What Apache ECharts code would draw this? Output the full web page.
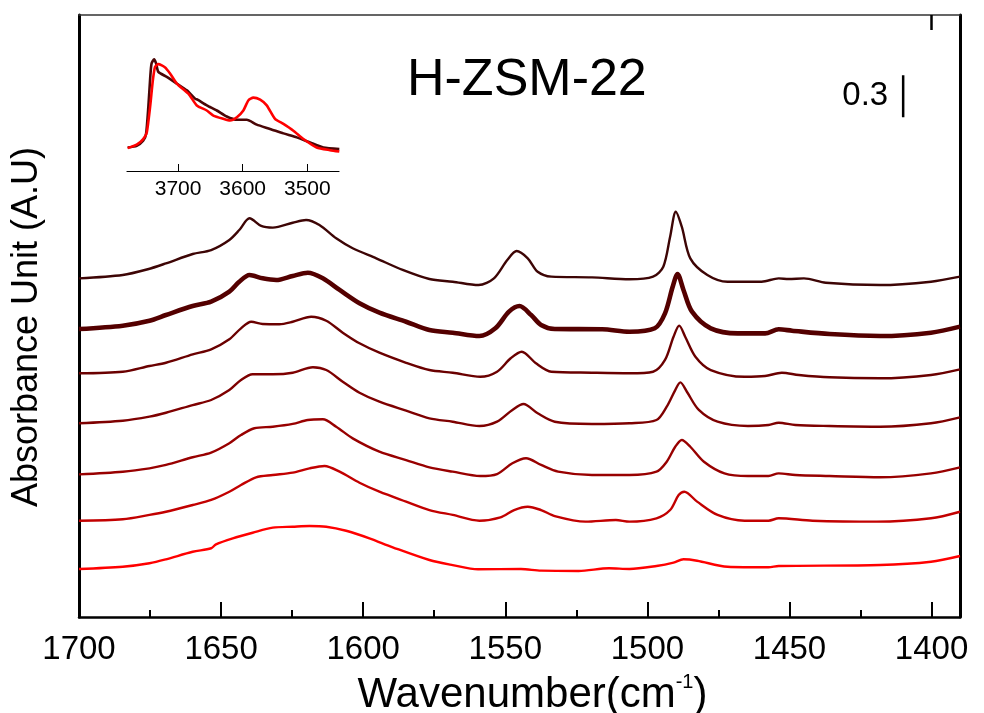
<!DOCTYPE html>
<html>
<head>
<meta charset="utf-8">
<title>H-ZSM-22 IR spectra</title>
<script src="https://cdn.jsdelivr.net/npm/echarts@6/dist/echarts.min.js"></script>
<style>
  html, body { margin: 0; padding: 0; background: #fff; }
  #chart { width: 984px; height: 713px; }
</style>
</head>
<body>
<div id="chart"></div>
<script>
// Wavenumber ticks of the main spectrum axis (cm^-1)
const wnMajorTicks = [1700, 1650, 1600, 1550, 1500, 1450, 1400];
const wnMinorTicks = [1675, 1625, 1575, 1525, 1475, 1425];
const insetTicks = [3700, 3600, 3500];

// Stacked spectra, top to bottom: [wavenumber, absorbance]
const spec1 = [[1700,2.419],[1684.6,2.443],[1675.8,2.484],[1669.4,2.526],[1660,2.593],[1653.5,2.621],[1647.1,2.693],[1643.6,2.764],[1640,2.848],[1635.9,2.793],[1631.8,2.781],[1624.8,2.816],[1620.1,2.836],[1615.4,2.8],[1609.5,2.705],[1603.7,2.634],[1595.4,2.562],[1586.1,2.479],[1576.7,2.414],[1568.5,2.395],[1559.4,2.371],[1554,2.419],[1549.3,2.55],[1546,2.614],[1542.1,2.562],[1538.6,2.466],[1533.8,2.431],[1519.5,2.426],[1506.3,2.412],[1498,2.431],[1494.4,2.502],[1492,2.716],[1490,2.895],[1487.9,2.788],[1484.9,2.562],[1478.9,2.443],[1471.8,2.395],[1459.8,2.395],[1453.8,2.419],[1450.3,2.414],[1444.9,2.419],[1437.2,2.388],[1418.1,2.371],[1400.2,2.395],[1390,2.431]];
const spec2 = [[1700,2.057],[1684.6,2.081],[1675.2,2.116],[1669.4,2.157],[1660,2.221],[1653.5,2.252],[1647.1,2.324],[1643.6,2.395],[1640,2.443],[1635.4,2.419],[1630.6,2.407],[1624.8,2.436],[1619.5,2.459],[1614.2,2.419],[1608.3,2.336],[1601.3,2.241],[1594.3,2.174],[1584.9,2.109],[1576.7,2.05],[1568.5,2.031],[1559.1,2.007],[1553.5,2.062],[1548.7,2.181],[1545,2.221],[1540.9,2.157],[1537.4,2.086],[1532.6,2.057],[1515.9,2.055],[1506.3,2.038],[1497.4,2.062],[1493.8,2.169],[1491.1,2.359],[1489.4,2.45],[1487.3,2.336],[1484.3,2.181],[1477.7,2.062],[1468.2,2.026],[1458.6,2.026],[1453.8,2.055],[1449.1,2.045],[1435.9,2.021],[1418.1,2.007],[1400.2,2.031],[1390,2.074]];
const spec3 = [[1700,1.741],[1684.6,1.752],[1675.2,1.793],[1669.4,1.816],[1660,1.876],[1653.5,1.912],[1647.1,1.984],[1643,2.062],[1639.4,2.109],[1635.4,2.093],[1629.5,2.091],[1624.8,2.109],[1618.3,2.145],[1613,2.116],[1607.2,2.031],[1601.3,1.955],[1594.3,1.888],[1584.9,1.816],[1576.7,1.764],[1568.5,1.745],[1558.8,1.716],[1552.9,1.752],[1548.1,1.848],[1544.2,1.895],[1539.2,1.812],[1533.8,1.752],[1519.5,1.745],[1506.3,1.741],[1498,1.752],[1493.8,1.836],[1490.8,2.002],[1488.8,2.081],[1486.7,2.002],[1483.1,1.859],[1477.7,1.764],[1465.8,1.716],[1458.6,1.721],[1452.7,1.745],[1446.7,1.729],[1435.9,1.712],[1418.1,1.705],[1400.2,1.729],[1390,1.769]];
const spec4 = [[1700,1.384],[1684.6,1.402],[1675.2,1.431],[1669.4,1.459],[1660,1.514],[1653.5,1.55],[1647.1,1.621],[1643,1.693],[1638.9,1.734],[1631.8,1.734],[1624.8,1.745],[1617.7,1.784],[1613,1.764],[1607.2,1.681],[1601.3,1.602],[1594.3,1.538],[1584.9,1.474],[1576.7,1.419],[1568.5,1.395],[1559.1,1.364],[1552.9,1.395],[1547.5,1.479],[1543.6,1.521],[1538.6,1.455],[1532.6,1.395],[1519.5,1.379],[1506.3,1.384],[1496.8,1.407],[1493.2,1.502],[1490.2,1.621],[1488.4,1.676],[1486.1,1.609],[1481.9,1.479],[1475.3,1.395],[1464.6,1.364],[1457.4,1.371],[1453.8,1.388],[1447.9,1.371],[1435.9,1.364],[1418.1,1.359],[1400.2,1.384],[1390,1.426]];
const spec5 = [[1700,1.019],[1684.6,1.038],[1675.2,1.062],[1669.4,1.086],[1660,1.141],[1653.5,1.174],[1647.1,1.241],[1643,1.3],[1638.3,1.348],[1631.8,1.359],[1624.8,1.379],[1619.5,1.407],[1614.2,1.412],[1609.5,1.359],[1603.7,1.276],[1594.3,1.181],[1584.9,1.121],[1576.7,1.069],[1568.5,1.038],[1558.8,1.007],[1552.9,1.021],[1547.5,1.098],[1542.7,1.134],[1537.4,1.086],[1531.4,1.038],[1519.5,1.014],[1506.3,1.014],[1496.8,1.038],[1493.2,1.109],[1490.2,1.216],[1487.9,1.264],[1484.9,1.216],[1480.1,1.109],[1472.9,1.026],[1464.6,1.007],[1457.4,1.007],[1453.8,1.026],[1447.9,1.014],[1435.9,1.007],[1418.1,0.998],[1400.2,1.026],[1390,1.069]];
const spec6 = [[1700,0.688],[1684.6,0.698],[1675.2,0.729],[1669.4,0.752],[1660,0.8],[1653.5,0.836],[1647.1,0.895],[1643,0.943],[1637.7,0.998],[1631.8,1.014],[1624.8,1.031],[1618.9,1.062],[1613.6,1.079],[1608.3,1.038],[1601.3,0.959],[1594.3,0.895],[1584.9,0.824],[1576.7,0.764],[1568.5,0.729],[1559.1,0.688],[1551.7,0.712],[1546.9,0.764],[1542.1,0.788],[1537.4,0.764],[1532.6,0.721],[1521.8,0.681],[1511.1,0.693],[1506.3,0.681],[1496.8,0.705],[1492,0.764],[1489,0.871],[1487,0.895],[1482.5,0.824],[1475.3,0.729],[1465.8,0.688],[1457.4,0.688],[1453.8,0.705],[1441.9,0.688],[1419.3,0.681],[1400.2,0.705],[1390,0.752]];
const spec7 = [[1700,0.343],[1684.6,0.359],[1675.2,0.384],[1669.4,0.412],[1660,0.466],[1653.5,0.491],[1651.8,0.519],[1645.9,0.562],[1638.9,0.602],[1631.8,0.638],[1624.8,0.645],[1618.9,0.65],[1613,0.645],[1606,0.616],[1597.8,0.562],[1589.6,0.498],[1576.7,0.407],[1568.5,0.371],[1559.6,0.341],[1544.5,0.343],[1537.4,0.331],[1524.2,0.329],[1513.5,0.348],[1506.3,0.343],[1496.8,0.364],[1490.8,0.388],[1487.3,0.412],[1482.5,0.402],[1471.8,0.359],[1457.4,0.355],[1453.8,0.364],[1418.1,0.371],[1400.2,0.395],[1390,0.436]];

// OH-stretch region shown in the inset: [wavenumber, relative absorbance]
const insetDark = [[3778,0.194],[3764,0.208],[3754,0.25],[3749.5,0.306],[3746,0.528],[3743,0.778],[3741,0.889],[3737,0.923],[3734,0.889],[3730.5,0.819],[3717.5,0.778],[3702,0.723],[3686.5,0.667],[3673.7,0.598],[3670,0.589],[3655.6,0.542],[3640,0.5],[3624.7,0.45],[3609,0.423],[3593.7,0.423],[3578.3,0.383],[3557.7,0.348],[3537,0.311],[3516.4,0.278],[3495.8,0.236],[3475.2,0.194],[3450.5,0.181]];
const insetRed = [[3778,0.189],[3764,0.217],[3754,0.264],[3748.4,0.319],[3743.3,0.528],[3739,0.75],[3735.6,0.861],[3730.5,0.883],[3720,0.856],[3712.4,0.806],[3702,0.723],[3684,0.639],[3671,0.542],[3655.6,0.5],[3645.4,0.458],[3630,0.431],[3619.6,0.417],[3609,0.444],[3599,0.5],[3591.3,0.583],[3583.5,0.606],[3573,0.589],[3562.8,0.542],[3550,0.431],[3537,0.389],[3521.6,0.333],[3506,0.264],[3485.5,0.194],[3465,0.172],[3450.5,0.161]];

// Absorbance scale bar
const scaleBarValue = 0.3;
const scaleBarAt = [1410, 3.57];

const spectra = [spec1, spec2, spec3, spec4, spec5, spec6, spec7];
const spectraColors = ['#3d0505', '#540000', '#6a0000', '#7e0000', '#980000', '#c20000', '#ff0000'];
const spectraWidths = [2.4, 4.6, 2.4, 2.4, 2.4, 2.4, 2.4];

const FONT = "'Liberation Sans', Arial, Helvetica, sans-serif";
const NARROW = "'Liberation Sans Narrow', 'Arial Narrow', 'Liberation Sans', sans-serif";
const plain = v => String(v);

const chart = echarts.init(document.getElementById('chart'), null, { renderer: 'canvas' });

const mainSeries = spectra.map((d, i) => ({
  type: 'line',
  xAxisIndex: 0,
  yAxisIndex: 0,
  data: d,
  showSymbol: false,
  smooth: 0.3,
  lineStyle: { color: spectraColors[i], width: spectraWidths[i] },
  z: 10 - i,
  silent: true
}));

const option = {
  animation: false,
  backgroundColor: '#ffffff',
  textStyle: { fontFamily: FONT },
  grid: [
    { left: 79, right: 24, top: 15, bottom: 96, containLabel: false, outerBoundsMode: 'none' },
    { left: 127, right: 645, top: 50, bottom: 542, containLabel: false, outerBoundsMode: 'none' }
  ],
  xAxis: [
    {
      type: 'value', gridIndex: 0, position: 'bottom',
      min: 1390, max: 1700, inverse: true,
      axisLine: { show: true, onZero: false, lineStyle: { color: '#000', width: 2.5 } },
      axisTick: { show: true, inside: true, length: 15, customValues: wnMajorTicks, lineStyle: { color: '#000', width: 2 } },
      axisLabel: { show: true, customValues: wnMajorTicks, formatter: plain, margin: 16, fontSize: 33, color: '#000', fontFamily: NARROW },
      splitLine: { show: false },
      name: '{a|Wavenumber(cm}{s|-1}{a|)}',
      nameLocation: 'middle',
      nameGap: 55,
      nameTextStyle: {
        padding: [0, 0, 0, 26],
        rich: {
          a: { fontSize: 42, color: '#000', fontFamily: FONT, lineHeight: 46 },
          s: { fontSize: 20, color: '#000', fontFamily: FONT, verticalAlign: 'top', lineHeight: 46, padding: [0, 0, 17, 0] }
        }
      }
    },
    {
      type: 'value', gridIndex: 0, position: 'bottom',
      min: 1390, max: 1700, inverse: true,
      axisLine: { show: false },
      axisTick: { show: true, inside: true, length: 7, customValues: wnMinorTicks, lineStyle: { color: '#000', width: 2 } },
      axisLabel: { show: false },
      splitLine: { show: false }
    },
    {
      type: 'value', gridIndex: 0, position: 'top',
      min: 1390, max: 1700, inverse: true,
      axisLine: { show: true, onZero: false, lineStyle: { color: '#333', width: 1.5 } },
      axisTick: { show: true, inside: true, length: 15, customValues: [1400], lineStyle: { color: '#000', width: 2.5 } },
      axisLabel: { show: false },
      splitLine: { show: false }
    },
    {
      type: 'value', gridIndex: 1, position: 'bottom',
      min: 3451, max: 3779, inverse: true,
      axisLine: { show: true, onZero: false, lineStyle: { color: '#000', width: 1.2 } },
      axisTick: { show: true, inside: true, length: 7, customValues: insetTicks, lineStyle: { color: '#000', width: 1 } },
      axisLabel: { show: true, customValues: insetTicks, formatter: plain, margin: 8, fontSize: 21, color: '#000', fontFamily: FONT },
      splitLine: { show: false }
    }
  ],
  yAxis: [
    {
      type: 'value', gridIndex: 0, position: 'left',
      min: 0, max: 4.3,
      axisLine: { show: true, onZero: false, lineStyle: { color: '#000', width: 3 } },
      axisTick: { show: false },
      axisLabel: { show: false },
      splitLine: { show: false },
      name: 'Absorbance Unit (A.U)',
      nameLocation: 'middle',
      nameRotate: 90,
      nameGap: 34,
      nameTextStyle: { fontSize: 36, color: '#000', fontFamily: FONT, padding: [0, 22, 0, 0] }
    },
    {
      type: 'value', gridIndex: 0, position: 'right',
      min: 0, max: 4.3,
      axisLine: { show: true, onZero: false, lineStyle: { color: '#000', width: 3 } },
      axisTick: { show: false },
      axisLabel: { show: false },
      splitLine: { show: false }
    },
    {
      type: 'value', gridIndex: 1,
      min: 0, max: 1,
      show: false
    }
  ],
  graphic: [
    {
      type: 'text',
      left: 407, top: 55,
      style: { text: 'H-ZSM-22', fontSize: 52, fill: '#000', fontFamily: FONT }
    }
  ],
  series: mainSeries.concat([
    {
      type: 'line', xAxisIndex: 3, yAxisIndex: 2, data: insetDark,
      showSymbol: false, smooth: 0.2, lineStyle: { color: '#4a0606', width: 2.6 }, silent: true
    },
    {
      type: 'line', xAxisIndex: 3, yAxisIndex: 2, data: insetRed,
      showSymbol: false, smooth: 0.2, lineStyle: { color: '#ff0000', width: 2.6 }, silent: true
    },
    {
      // vertical scale bar spanning scaleBarValue absorbance units
      type: 'line', xAxisIndex: 0, yAxisIndex: 0,
      data: [scaleBarAt, [scaleBarAt[0], scaleBarAt[1] + scaleBarValue]],
      showSymbol: false, lineStyle: { color: '#000', width: 2.5 }, silent: true
    },
    {
      type: 'scatter', xAxisIndex: 0, yAxisIndex: 0,
      data: [[scaleBarAt[0], scaleBarAt[1] + scaleBarValue / 2]],
      symbolSize: 0, silent: true,
      itemStyle: { opacity: 1 },
      label: {
        show: true, position: 'left', distance: 15,
        formatter: () => String(scaleBarValue),
        fontSize: 33, color: '#000000', opacity: 1, textBorderWidth: 0, fontFamily: FONT
      }
    }
  ])
};

chart.setOption(option);
</script>
</body>
</html>
